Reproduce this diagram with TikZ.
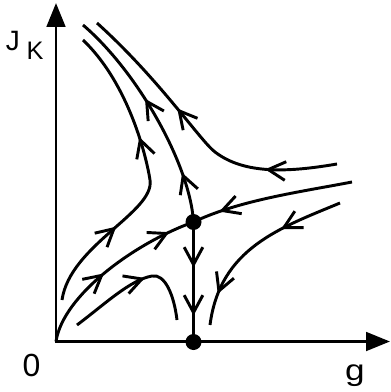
\documentclass[tikz,border=0pt]{standalone}
\usepackage{fontspec}
\setmainfont{Liberation Sans}
\usetikzlibrary{arrows.meta,decorations.markings}
\begin{document}
\begin{tikzpicture}[x=0.75pt,y=-0.75pt,
  flow/.style={line width=2.2pt},
  axisline/.style={line width=2.2pt,line join=miter,{Triangle[length=18pt,width=14pt]}-{Triangle[length=18pt,width=14pt]}},
  arr/.style={postaction={decorate,decoration={markings,mark=at position #1 with {\arrow{Straight Barb[length=13pt,width=14pt]}}}}},
  dot/.style={circle,fill,inner sep=0pt,minimum size=12pt},
  lbl/.style={inner sep=0pt,anchor=base}]
\useasboundingbox (0,0) rectangle (390,392);
% axes
\coordinate (o) at (56,341.5);
\coordinate (ytip) at (56,3);
\coordinate (xtip) at (390,341.5);
\draw[axisline] (ytip) -- (o) -- (xtip);
% labels
\node[lbl] (lj) at (13,51) {\fontsize{21pt}{23pt}\selectfont J};
\node[lbl] (lk) at (35,60) {\fontsize{19pt}{21pt}\selectfont K};
\node[lbl] (l0) at (31.5,376) {\fontsize{24pt}{26pt}\selectfont 0};
\node[lbl,xscale=1.2] (lg) at (355,380) {\fontsize{22pt}{24pt}\selectfont g};
% fixed points
\node[dot] (p1) at (193.5,222) {};
\node[dot] (p2) at (193.5,342) {};
% separatrix from origin to p1
\draw[flow,arr=0.45,arr=0.86] (o) .. controls (63,295) and (135,243) .. (p1.center);
% right branch into p1
\draw[flow,arr=0.83] (352,182) .. controls (300,192) and (240,200) .. (p1.center);
% unstable manifold up-left
\draw[flow,arr=0.22,arr=0.58] (p1.center) .. controls (190,165) and (138,72) .. (83,25);
% vertical
\draw[flow,arr=0.38,arr=0.78] (p1.center) -- (p2.center);
% curve B
\draw[flow,arr=0.24,arr=0.61] (337,164) .. controls (290,172) and (245,175) .. (215,152)
   .. controls (200,140.5) and (160,80) .. (97,23);
% curve C
\draw[flow,arr=0.30,arr=0.635] (62,300) .. controls (70,245) and (155,212) .. (150,180)
   .. controls (147,160) and (130,85) .. (83,40);
% curve D
\draw[flow,arr=0.57] (77,325) .. controls (105,304) and (130,280) .. (152,276)
   .. controls (165,273.6) and (174,295) .. (177,320);
% curve E
\draw[flow,arr=0.34,arr=0.83] (340,203) .. controls (280,228) and (220,248) .. (210,325);
\end{tikzpicture}
\end{document}
